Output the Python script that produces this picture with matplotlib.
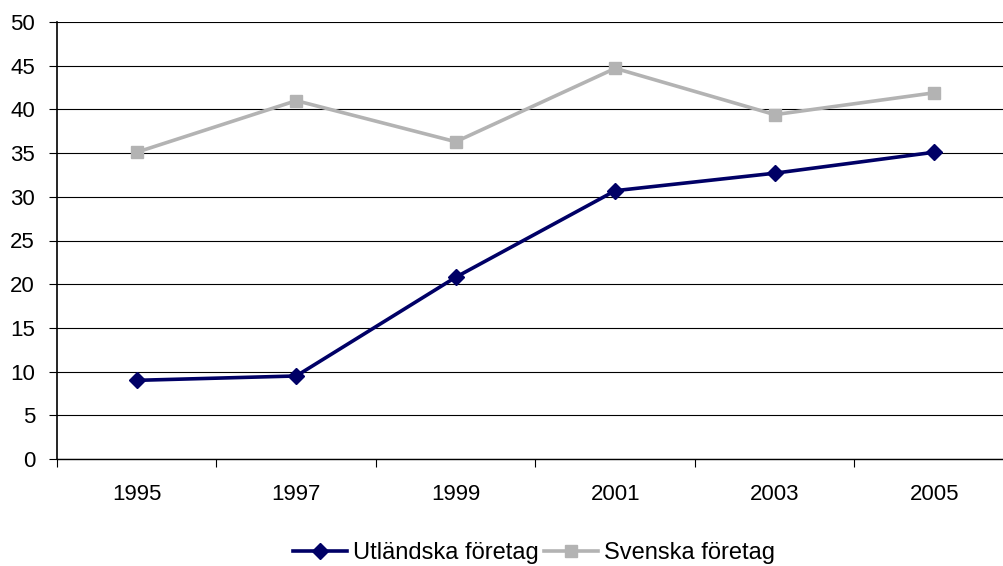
import matplotlib
matplotlib.use("Agg")
import matplotlib.pyplot as plt

years = ["1995", "1997", "1999", "2001", "2003", "2005"]
utlandska = [9.0, 9.5, 20.8, 30.7, 32.7, 35.1]
svenska = [35.1, 41.0, 36.3, 44.7, 39.4, 41.9]
yticks = [0, 5, 10, 15, 20, 25, 30, 35, 40, 45, 50]

plt.rcParams['font.family'] = ['Liberation Sans', 'DejaVu Sans']
FS = 16

fig = plt.figure(figsize=(10.04, 5.66), dpi=100)
ax = fig.add_axes([57/1004, 1-459/566, 957/1004, 437/566])

x = list(range(len(years)))
ax.plot(x, utlandska, color="#000066", lw=2.6, marker="D", ms=8.5,
        label="Utländska företag", zorder=3)
ax.plot(x, svenska, color="#B3B3B3", lw=2.6, marker="s", ms=8,
        label="Svenska företag", zorder=3)

ax.set_xlim(-0.5, len(years) - 0.5)
ax.set_ylim(0, 50)
ax.set_yticks(yticks)
ax.set_yticklabels([str(v) for v in yticks], fontsize=FS)
ax.yaxis.grid(True, color="black", lw=0.8)
ax.set_axisbelow(True)

ax.set_xticks(x)
ax.set_xticklabels(years, fontsize=FS)
ax.set_xticks([i - 0.5 for i in range(len(years) + 1)], minor=True)
ax.tick_params(axis="x", which="major", length=0, pad=18)
ax.tick_params(axis="x", which="minor", length=5.8, width=0.8, direction="out")
ax.tick_params(axis="y", length=5.8, width=0.8, direction="out", pad=10)

for s in ["top", "right"]:
    ax.spines[s].set_visible(False)
ax.spines["left"].set_linewidth(1.2)
ax.spines["bottom"].set_linewidth(1.0)

fig.legend(loc="center", bbox_to_anchor=(0.532, 1-553/566), ncol=2,
           frameon=False, fontsize=17, handlelength=2.3, handletextpad=0.25,
           columnspacing=0.2)

fig.savefig("out.png", dpi=100)
